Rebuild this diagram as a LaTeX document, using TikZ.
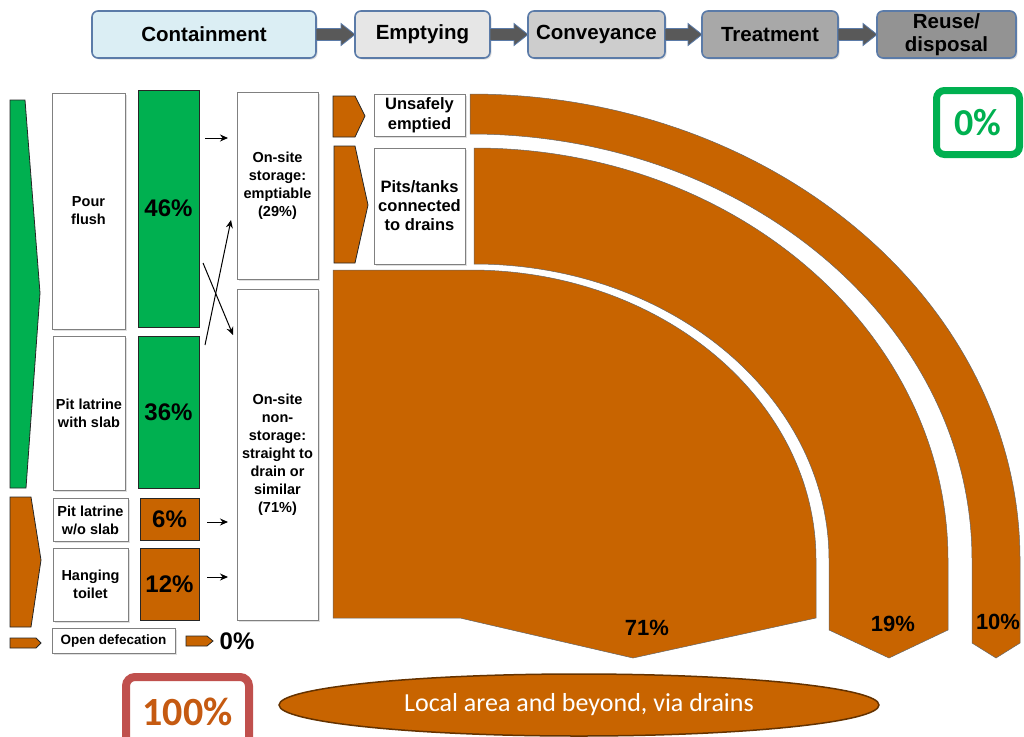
\documentclass[tikz,border=0pt]{standalone}
\usepackage{fontspec}
\setmainfont{Liberation Sans}
\newfontfamily\calibri{Carlito}
\usetikzlibrary{arrows.meta,shapes.geometric,shadows}
\definecolor{drain}{HTML}{C86400}
\definecolor{grn}{HTML}{00B050}
\definecolor{hdrline}{HTML}{5B7BA8}
\definecolor{redframe}{HTML}{C0504D}
\definecolor{brick}{HTML}{C55A11}
\definecolor{hdrA}{HTML}{DBEEF4}
\definecolor{hdrB}{HTML}{E6E6E6}
\definecolor{hdrC}{HTML}{CDCDCD}
\definecolor{hdrD}{HTML}{A8A8A8}
\definecolor{hdrE}{HTML}{939393}
\tikzset{
  softshadow/.style={drop shadow={shadow xshift=1.5pt,shadow yshift=-1.5pt,opacity=0.25}},
  hdr/.style={draw=hdrline,line width=1.6pt,rounded corners=6pt,minimum height=47pt,inner sep=0pt,outer sep=0pt,align=center,softshadow,font=\bfseries\fontsize{20.5}{23}\selectfont},
  harrow/.style={fill=black!65,draw=hdrline,line width=0.8pt},
  wbox/.style={draw=black!50,fill=white,line width=0.8pt,inner sep=0pt,outer sep=0pt,align=center,softshadow,font=\bfseries\fontsize{14.5}{18}\selectfont},
  pct/.style={draw=black!85,line width=1pt,inner sep=0pt,outer sep=0pt,font=\bfseries\fontsize{24}{28}\selectfont},
  chev/.style={fill=drain,draw=black!85,line width=0.8pt},
  arr/.style={-{Stealth[length=8pt,width=7pt]},line width=1pt},
  band/.style={fill=drain,draw=black!60,line width=0.5pt},
  bandpct/.style={font=\bfseries\fontsize{22}{24}\selectfont}
}
\begin{document}
\begin{tikzpicture}[x=1pt,y=-1pt]
\path[use as bounding box,clip] (0,0) rectangle (1024,736);
\node[hdr,fill=hdrA,minimum width=224pt] (contain) at (204,34.5) {Containment};
\node[hdr,fill=hdrB,minimum width=135pt] (empty) at (422.5,34.5) {Emptying};
\node[hdr,fill=hdrC,minimum width=137pt] (convey) at (596.5,34.5) {Conveyance};
\node[hdr,fill=hdrD,minimum width=136pt] (treat) at (770,34.5) {Treatment};
\node[hdr,fill=hdrE,minimum width=139pt] (reuse) at (946.5,34.5) {Reuse/\\disposal};
\foreach \a/\b in {contain/empty,empty/convey,convey/treat,treat/reuse}
  \draw[harrow] ([yshift=-6pt]\a.east) -- ([xshift=-14pt,yshift=-6pt]\b.west)
    -- ([xshift=-14pt,yshift=-11pt]\b.west) -- (\b.west)
    -- ([xshift=-14pt,yshift=11pt]\b.west) -- ([xshift=-14pt,yshift=6pt]\b.west)
    -- ([yshift=6pt]\a.east) -- cycle;

\filldraw[chev,fill=grn] (10,100) -- (25,100) -- (40,293) -- (26,488) -- (10,488) -- cycle;
\filldraw[chev] (10,497) -- (31,497) -- (41,560) -- (31,627) -- (10,627) -- cycle;
\filldraw[chev] (10,638) -- (36,638) -- (41,643) -- (36,648) -- (10,648) -- cycle;

\node[wbox,minimum width=73pt,minimum height=236pt] (pour) at (88.5,211) {Pour\\flush};
\node[wbox,minimum width=72pt,minimum height=154pt] (slab) at (89,413) {Pit latrine\\with slab};
\node[wbox,minimum width=75pt,minimum height=43pt] (noslab) at (90.5,520) {Pit latrine\\w/o slab};
\node[wbox,minimum width=75pt,minimum height=73pt] (hang) at (90.5,584.5) {Hanging\\toilet};
\node[wbox,minimum width=123pt,minimum height=25pt,font=\bfseries\fontsize{13.5}{16}\selectfont] (open) at (113.5,640.5) {Open defecation};

\node[pct,fill=grn,minimum width=61pt,minimum height=237pt] (p46) at (168.5,208.5) {46\%};
\node[pct,fill=grn,minimum width=61pt,minimum height=152pt] (p36) at (168.5,412) {36\%};
\node[pct,fill=drain,minimum width=59pt,minimum height=42pt] (p6) at (169.5,519) {6\%};
\node[pct,fill=drain,minimum width=59pt,minimum height=72pt] (p12) at (169.5,584) {12\%};
\filldraw[chev] (186,636) -- (207,636) -- (213,641) -- (207,646) -- (186,646) -- cycle;
\node[font=\bfseries\fontsize{24}{28}\selectfont] (p0) at (237,641) {0\%};

\node[wbox,minimum width=81pt,minimum height=187pt] (stor) at (277.5,185.5) {On-site\\storage:\\emptiable\\(29\%)};
\node[wbox,minimum width=81pt,minimum height=331pt] (nons) at (277.5,454.5) {On-site\\non-\\storage:\\straight to\\drain or\\similar\\(71\%)};

\coordinate (a46) at ([shift={(6,48)}]p46.north east);
\coordinate (a6) at ([shift={(8,3)}]p6.east);
\coordinate (a12) at ([shift={(8,-7)}]p12.east);
\draw[arr,shorten >=9pt] (a46) -- (a46 -| stor.west);
\draw[arr,shorten >=9pt] (a6) -- (a6 -| nons.west);
\draw[arr,shorten >=9pt] (a12) -- (a12 -| nons.west);
\draw[arr] ([shift={(4,-64)}]p46.south east) -- ([shift={(-4,46)}]nons.north west);
\draw[arr] ([shift={(6,9)}]p36.north east) -- ([shift={(-6,128)}]stor.north west);

\filldraw[chev] (333,96) -- (355,96) -- (365,116) -- (355,137) -- (333,137) -- cycle;
\filldraw[chev] (334,146) -- (355,146) -- (368,205) -- (355,263) -- (334,263) -- cycle;
\node[wbox,minimum width=91pt,minimum height=42pt,font=\bfseries\fontsize{16.5}{20}\selectfont] (unsafe) at (419.5,115) {Unsafely\\emptied};
\node[wbox,minimum width=91pt,minimum height=116pt,font=\bfseries\fontsize{16.5}{19}\selectfont] (pits) at (419.5,206) {Pits/tanks\\connected\\to drains};

\filldraw[band] (470,94) arc[start angle=90,end angle=0,x radius=550pt,y radius=466pt]
  -- (1020,643) -- (996,658) -- (972,643) -- (972,560)
  arc[start angle=0,end angle=90,x radius=502pt,y radius=426pt] -- cycle;
\filldraw[band] (474,148) arc[start angle=90,end angle=0,x radius=474pt,y radius=412pt]
  -- (948,630) -- (889,658) -- (829,630) -- (829,560)
  arc[start angle=0,end angle=90,x radius=355pt,y radius=296pt] -- cycle;
\filldraw[band] (333,270) -- (470,270) arc[start angle=90,end angle=0,x radius=346pt,y radius=290pt]
  -- (816,618) -- (633,658) -- (460,618) -- (333,618) -- cycle;
\node[bandpct] (b71) at (647,628) {71\%};
\node[bandpct] (b19) at (893,624) {19\%};
\node[bandpct] (b10) at (998,622) {10\%};

\node[draw=grn,line width=7pt,rounded corners=8pt,minimum width=83pt,minimum height=64pt,text=grn,font=\calibri\bfseries\fontsize{38}{40}\selectfont] (zero) at (978,122.5) {0\%};
\node[draw=redframe,line width=8pt,rounded corners=9pt,fill=white,minimum width=123pt,minimum height=70pt,text=brick,font=\calibri\bfseries\fontsize{40}{42}\selectfont] (total) at (187.5,712) {100\%};
\node[ellipse,fill=drain,draw=drain!50!black,line width=1.5pt,minimum width=600pt,minimum height=62pt,inner sep=0pt,text=white,font=\calibri\fontsize{26}{28}\selectfont] (local) at (579,705) {Local area and beyond, via drains};
\end{tikzpicture}
\end{document}
